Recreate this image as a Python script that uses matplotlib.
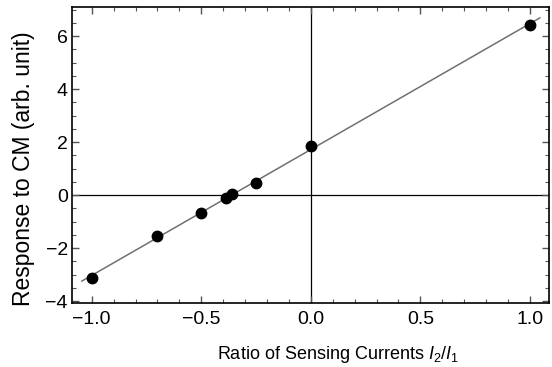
import numpy as np
import matplotlib
matplotlib.use('Agg')
import matplotlib.pyplot as plt
from matplotlib.ticker import MultipleLocator

plt.rcParams['font.family'] = ['Liberation Sans', 'DejaVu Sans']
plt.rcParams['mathtext.fontset'] = 'custom'
plt.rcParams['mathtext.it'] = 'Liberation Sans:italic'
plt.rcParams['mathtext.rm'] = 'Liberation Sans'

# current ratio I2/I1 and measured response
ratio = [-1.0, -0.7, -0.5, -0.385, -0.36, -0.25, 0.0, 1.0]
response = [-3.12, -1.53, -0.67, -0.10, 0.03, 0.47, 1.85, 6.42]

# linear fit through the points
slope, intercept = np.polyfit(ratio, response, 1)
xfit = np.linspace(-1.045, 1.045, 50)

fig = plt.figure(figsize=(5.52, 3.67), dpi=100)
ax = fig.add_axes([72/552, 1 - 303/367, 477/552, 296/367])

ax.axhline(0, color='black', lw=0.9, zorder=1)
ax.axvline(0, color='black', lw=0.9, zorder=1)
ax.plot(xfit, slope * xfit + intercept, color='#707070', lw=1.1, zorder=2)
ax.plot(ratio, response, 'o', color='black', ms=7.5, zorder=3)

ax.set_xlim(-1.09, 1.087)
ax.set_ylim(-4.07, 7.1)
ax.xaxis.set_major_locator(MultipleLocator(0.5))
ax.xaxis.set_minor_locator(MultipleLocator(0.1))
ax.yaxis.set_major_locator(MultipleLocator(2))
ax.yaxis.set_minor_locator(MultipleLocator(0.5))
ax.xaxis.set_major_formatter(plt.FuncFormatter(lambda v, p: f'{v:.1f}'.replace('-', '\u2212')))
ax.yaxis.set_major_formatter(plt.FuncFormatter(lambda v, p: f'{v:.0f}'.replace('-', '\u2212')))

ax.tick_params(which='both', direction='in', top=True, right=True,
               labelsize=14, color='#555555')
ax.tick_params(axis='x', which='major', pad=6)
ax.tick_params(axis='y', which='major', pad=3)
ax.tick_params(which='major', length=5, width=1)
ax.tick_params(which='minor', length=3, width=0.8)
for s in ax.spines.values():
    s.set_linewidth(1.2)

ax.set_xlabel('Ratio of Sensing Currents $I_2/I_1$', fontsize=13)
ax.set_ylabel('Response to CM (arb. unit)', fontsize=16.5)
ax.xaxis.set_label_coords(0.558, -0.14)
ax.yaxis.set_label_coords(-0.078, 0.454)

fig.savefig('out.png', dpi=100)
